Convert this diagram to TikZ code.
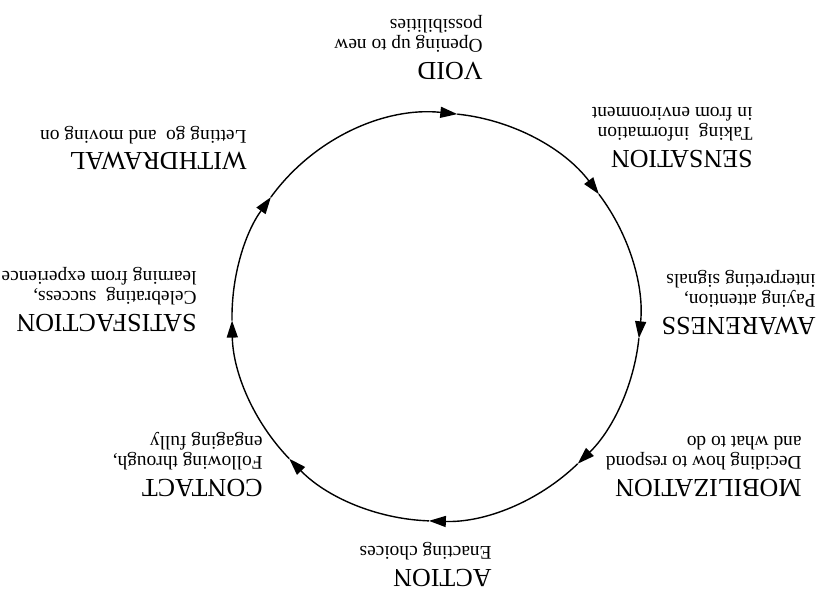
\documentclass[tikz,border=0pt]{standalone}
\usepackage{fontspec}
\setmainfont{Liberation Serif}
\usetikzlibrary{arrows.meta, calc}

\newcommand{\stname}[1]{{\fontsize{13}{15}\selectfont #1}}

\begin{document}
\begin{tikzpicture}[
    x=0.5pt, y=0.5pt, rotate=180, transform shape,
    stage/.style={anchor=north west, inner sep=0pt, align=left, font=\fontsize{9.7}{10}\selectfont},
    cyc/.style={-{Triangle[length=8.5pt, width=5.5pt]}, line width=0.7pt},
]
\useasboundingbox (0,0) rectangle (818,592);
\coordinate (o) at (382,317);
\coordinate (p1) at ($(o)+(264:204)$);
\coordinate (p2) at ($(o)+(217:204)$);
\coordinate (p3) at ($(o)+(174:204)$);
\coordinate (p4) at ($(o)+(134:204)$);
\coordinate (p5) at ($(o)+(88:204)$);
\coordinate (p6) at ($(o)+(44:204)$);
\coordinate (p7) at ($(o)+(1:204)$);
\coordinate (p8) at ($(o)+(-36:204)$);
\node[stage] (void) at (335,80) {\stname{VOID}\\[1.2pt] Opening up to new\\ possibilities};
\node[stage] (sensation) at (65,168) {\stname{SENSATION}\\[1.2pt] Taking\ \ information\\ in from environment};
\node[stage] (awareness) at (2,335) {\stname{AWARENESS}\\[1.2pt] Paying attention,\\ interpreting signals};
\node[stage] (mobilization) at (16,497) {\stname{MOBILIZATION}\\[1.2pt] Deciding how to respond\\ and what to do};
\node[stage] (action) at (326,587) {\stname{ACTION}\\[1.2pt] Enacting choices};
\node[stage] (contact) at (555,497) {\stname{CONTACT}\\[1.2pt] Following through,\\ engaging fully};
\node[stage] (satisfaction) at (621,332) {\stname{SATISFACTION}\\[1.2pt] Celebrating\ \ success,\\ learning from experience};
\node[stage] (withdrawal) at (571,170) {\stname{WITHDRAWAL}\\[1.2pt] Letting go\ \ and moving on};
\draw[cyc] (p1) arc[start angle=264, end angle=217, radius=204];
\draw[cyc] (p2) arc[start angle=217, end angle=174, radius=204];
\draw[cyc] (p3) arc[start angle=174, end angle=134, radius=204];
\draw[cyc] (p4) arc[start angle=134, end angle=88, radius=204];
\draw[cyc] (p5) arc[start angle=88, end angle=44, radius=204];
\draw[cyc] (p6) arc[start angle=44, end angle=1, radius=204];
\draw[cyc] (p7) arc[start angle=1, end angle=-36, radius=204];
\draw[cyc] (p8) arc[start angle=-36, end angle=-96, radius=204];
\end{tikzpicture}
\end{document}
